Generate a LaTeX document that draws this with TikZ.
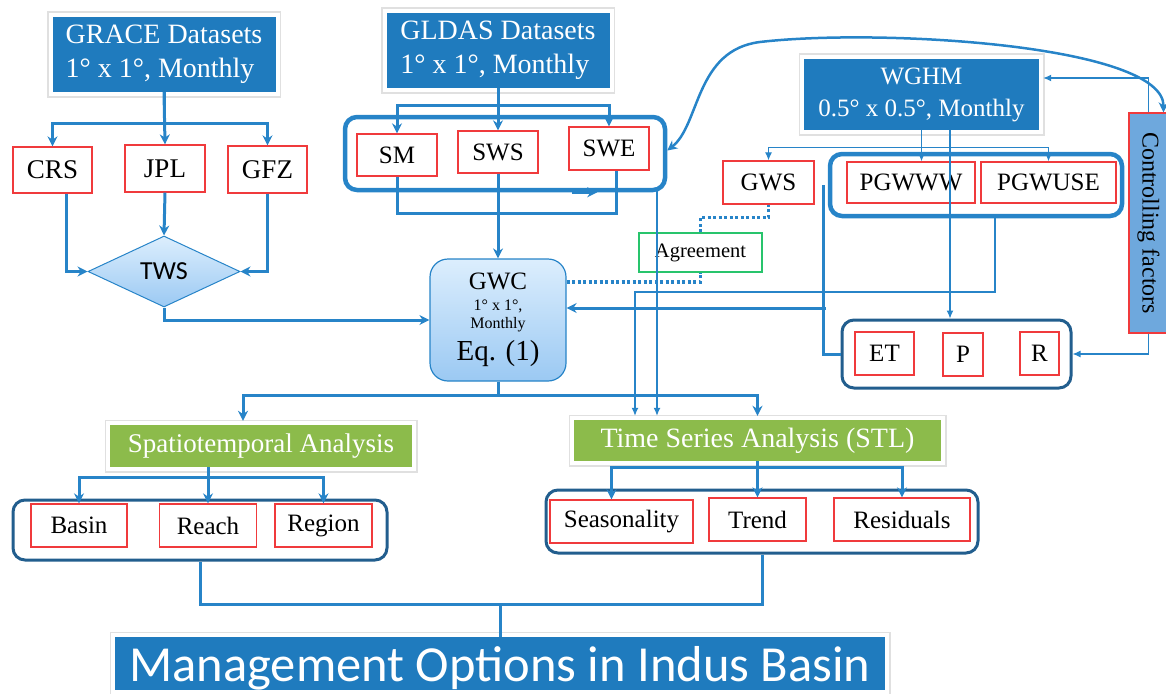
\documentclass[tikz,border=0pt]{standalone}
\usepackage{fontspec}
\setmainfont{Liberation Serif}
\newfontfamily\calibri{Carlito}
\usepackage{tikz}
\usetikzlibrary{arrows.meta,shapes.geometric}
\definecolor{boxblue}{HTML}{1F7BBE}
\definecolor{lineblue}{HTML}{2784C8}
\definecolor{darkblue}{HTML}{225E8E}
\definecolor{anagreen}{HTML}{8CBB4B}
\definecolor{boxred}{HTML}{F03A3C}
\definecolor{agreegreen}{HTML}{28C46C}
\definecolor{paleblue}{HTML}{DCEEFD}
\definecolor{midblue}{HTML}{9BC9F3}
\definecolor{ctrlblue}{HTML}{6EA8DD}

\begin{document}
\begin{tikzpicture}[x=1pt, y=-1pt, every node/.style={inner sep=0pt},
  boxframe/.style={preaction={draw=black!12, line width=11pt}, preaction={draw=white, line width=8pt}},
  databox/.style={boxframe, fill=boxblue, text=white, font=\fontsize{28pt}{34pt}\selectfont},
  anabox/.style={boxframe, fill=anagreen, text=white, font=\fontsize{27pt}{30pt}\selectfont},
  lbl/.style={draw=boxred, line width=1.3pt, fill=white, font=\fontsize{25pt}{28pt}\selectfont},
  grp/.style={draw=lineblue, line width=4.5pt, rounded corners=12pt},
  grpdark/.style={draw=darkblue, line width=3pt, rounded corners=12pt},
  con/.style={draw=lineblue, line width=3pt, -{Stealth[length=10pt,width=10pt]}},
  conline/.style={draw=lineblue, line width=3pt},
  thinarrow/.style={draw=lineblue, line width=1.2pt, -{Latex[length=8pt,width=7pt]}},
  dots/.style={draw=lineblue, line width=3.5pt, dash pattern=on 3pt off 2.5pt}]
  \useasboundingbox (0,0) rectangle (1166,693);

  \node[grp, minimum width=320pt, minimum height=73pt] at (505,153.5) (gldasgrp) {};
  \node[grp, minimum width=292pt, minimum height=62pt] at (976,185) (pgwgrp) {};
  \node[grpdark, minimum width=229pt, minimum height=68pt] at (956.5,354) (etgrp) {};
  \node[grpdark, minimum width=374pt, minimum height=60pt] at (200,530) (spagrp) {};
  \node[grpdark, minimum width=432pt, minimum height=63pt] at (762,521.5) (tsagrp) {};

  \node[databox, align=left, minimum width=223pt, minimum height=75pt] at (164,54.5) (grace) {GRACE Datasets\\1° x 1°, Monthly};
  \node[databox, align=left, minimum width=223pt, minimum height=75pt] at (498,50.5) (gldas) {GLDAS Datasets\\1° x 1°, Monthly};
  \node[databox, align=center, minimum width=235pt, minimum height=71pt, font=\fontsize{25pt}{32pt}\selectfont]
    at (921.5,94.5) (wghm) {WGHM\\0.5° x 0.5°, Monthly};

  \node[lbl, minimum width=79pt, minimum height=46pt, font=\fontsize{27pt}{28pt}\selectfont] at (52.5,170) (crs) {CRS};
  \node[lbl, minimum width=80pt, minimum height=47pt, font=\fontsize{27pt}{28pt}\selectfont] at (165,168.5) (jpl) {JPL};
  \node[lbl, minimum width=79pt, minimum height=47pt, font=\fontsize{27pt}{28pt}\selectfont] at (267.5,169.5) (gfz) {GFZ};
  \node[diamond, aspect=2, draw=lineblue, line width=1pt, top color=paleblue, bottom color=midblue,
    minimum width=152pt, minimum height=71pt, font=\calibri\fontsize{26pt}{28pt}\selectfont] at (164,271.5) (tws) {TWS};

  \node[lbl, minimum width=80pt, minimum height=42pt] at (397,155) (sm) {SM};
  \node[lbl, minimum width=80pt, minimum height=42pt] at (498,152) (sws) {SWS};
  \node[lbl, minimum width=80pt, minimum height=43pt] at (609,148.5) (swe) {SWE};

  \node[draw=lineblue, line width=1.2pt, rounded corners=18pt, top color=paleblue, bottom color=midblue,
    minimum width=136pt, minimum height=122pt, align=center, font=\fontsize{16pt}{18pt}\selectfont] at (498,320) (gwc)
    {{\fontsize{25pt}{25pt}\selectfont GWC}\\[3pt]1° x 1°,\\Monthly\\[8pt]{\fontsize{29pt}{30pt}\selectfont Eq. (1)}};

  \node[lbl, minimum width=91pt, minimum height=43pt] at (768.5,182.5) (gws) {GWS};
  \node[draw=agreegreen, line width=1.3pt, fill=white, minimum width=123pt, minimum height=39pt,
    font=\fontsize{20.5pt}{22pt}\selectfont] at (700.5,252.5) (agree) {Agreement};
  \node[lbl, minimum width=128pt, minimum height=41pt] at (911,182.5) (pgwww) {PGWWW};
  \node[lbl, minimum width=135pt, minimum height=41pt] at (1048.5,182.5) (pgwuse) {PGWUSE};
  \node[draw=boxred, line width=1.3pt, fill=ctrlblue, rotate=-90, minimum width=220pt, minimum height=39pt,
    font=\fontsize{24pt}{26pt}\selectfont] at (1148.5,223) (ctrl) {Controlling factors};

  \node[lbl, minimum width=59pt, minimum height=43pt] at (884.5,353.5) (et) {ET};
  \node[lbl, minimum width=40pt, minimum height=43pt] at (963,354.5) (p) {P};
  \node[lbl, minimum width=39pt, minimum height=43pt] at (1039.5,353.5) (r) {R};

  \node[anabox, minimum width=302pt, minimum height=42pt] at (261,446) (spa) {Spatiotemporal Analysis};
  \node[anabox, minimum width=367pt, minimum height=41pt, font=\fontsize{28pt}{30pt}\selectfont]
    at (757.5,440.5) (tsa) {Time Series Analysis (STL)};

  \node[lbl, minimum width=96pt, minimum height=43pt] at (79,525.5) (basin) {Basin};
  \node[lbl, minimum width=97pt, minimum height=43pt] at (208,525.5) (reach) {Reach};
  \node[lbl, minimum width=97pt, minimum height=43pt] at (323.5,525.5) (region) {Region};
  \node[lbl, minimum width=143pt, minimum height=43pt] at (621.5,521.5) (season) {Seasonality};
  \node[lbl, minimum width=97pt, minimum height=43pt] at (757.5,519.5) (trend) {Trend};
  \node[lbl, minimum width=136pt, minimum height=43pt] at (902,519.5) (resid) {Residuals};

  \node[databox, text depth=0pt, minimum width=770pt, minimum height=53pt,
    font=\calibri\fontsize{50.5pt}{52pt}\selectfont] at (500,663.5) (mgmt) {Management Options in Indus Basin};

  \coordinate (wghmdown) at (950,130);
  \coordinate (swedown) at (657,190);
  \coordinate (tsabend) at (635,292);
  \coordinate (gwcjoin) at (826,308);

  \draw[con] (grace.south) -- ++(0,31) -| (crs.north);
  \draw[con] (grace.south) -- (jpl.north);
  \draw[con] (grace.south) -- ++(0,31) -| (gfz.north);
  \draw[con] ([xshift=13.5pt]crs.south) |- (tws.west);
  \draw[con] (jpl.south) -- (tws.north);
  \draw[con] (gfz.south) |- (tws.east);
  \draw[con] (tws.south) |- (gwc.west);

  \draw[con] (gldas.south) -- ++(0,17) -| (sm.north);
  \draw[con] (gldas.south) -- (sws.north);
  \draw[con] (gldas.south) -- ++(0,17) -| (swe.north);
  \draw[conline] (sm.south) -- ++(0,37) -| ([xshift=7pt]swe.south);
  \draw[con] ([xshift=-95pt]gldasgrp.south east) -- ([xshift=-70pt]gldasgrp.south east);
  \draw[con] (sws.south) -- (gwc.north);
  \draw[con, line width=2.5pt, {Stealth[length=10pt,width=10pt]}-{Stealth[length=10pt,width=10pt]}]
    ([yshift=3pt]gldasgrp.east) .. controls (700,125) and (695,50) .. (760,42)
    .. controls (880,28) and (1164,45) .. ([xshift=15pt]ctrl.west);

  \draw[thinarrow] (wghm.south) -- ++(0,17) -| (gws.north);
  \draw[thinarrow] (wghm.south) -- ++(0,17) -| (pgwuse.north);
  \draw[thinarrow] (wghm.south) -- (wghm.south |- pgwww.north);
  \draw[thinarrow] (wghmdown) -- (wghmdown |- etgrp.north);
  \draw[thinarrow] (ctrl.west) |- ([xshift=4pt,yshift=16.5pt]wghm.east);
  \draw[thinarrow] (ctrl.east) |- (etgrp.east);
  \draw[thinarrow, shorten >=4pt] ([xshift=19pt]pgwgrp.south) |- (tsabend) -- (tsabend |- tsa.north);
  \draw[thinarrow, shorten >=4pt] (swedown) -- (swedown |- tsa.north);

  \draw[conline] ([xshift=-4pt]pgwgrp.west) |- (etgrp.west);
  \draw[con] (gwcjoin) -- ([yshift=12pt]gwc.east);
  \draw[dots] ([yshift=38pt]gwc.east) -| (agree.south);
  \draw[dots] (agree.north) -- ++(0,-15) -| (gws.south);

  \draw[con, shorten >=4pt] (gwc.south) -- ++(0,14) -| ([xshift=-18pt]spa.north);
  \draw[con, shorten >=4pt] (gwc.south) -- ++(0,14) -| (tsa.north);

  \draw[con] ([xshift=-53pt]spa.south) -- ++(0,10) -| (basin.north);
  \draw[con] ([xshift=-53pt]spa.south) -- (reach.north);
  \draw[con] ([xshift=-53pt]spa.south) -- ++(0,10) -| (region.north);
  \draw[con] (tsa.south) -- ++(0,6.5) -| ([xshift=-10pt]season.north);
  \draw[con] (tsa.south) -- (trend.north);
  \draw[con] (tsa.south) -- ++(0,6.5) -| (resid.north);

  \draw[conline] (spagrp.south) -- ++(0,43) -| (tsagrp.south);
  \draw[conline] (mgmt.north) -- ++(0,-34);
\end{tikzpicture}
\end{document}
